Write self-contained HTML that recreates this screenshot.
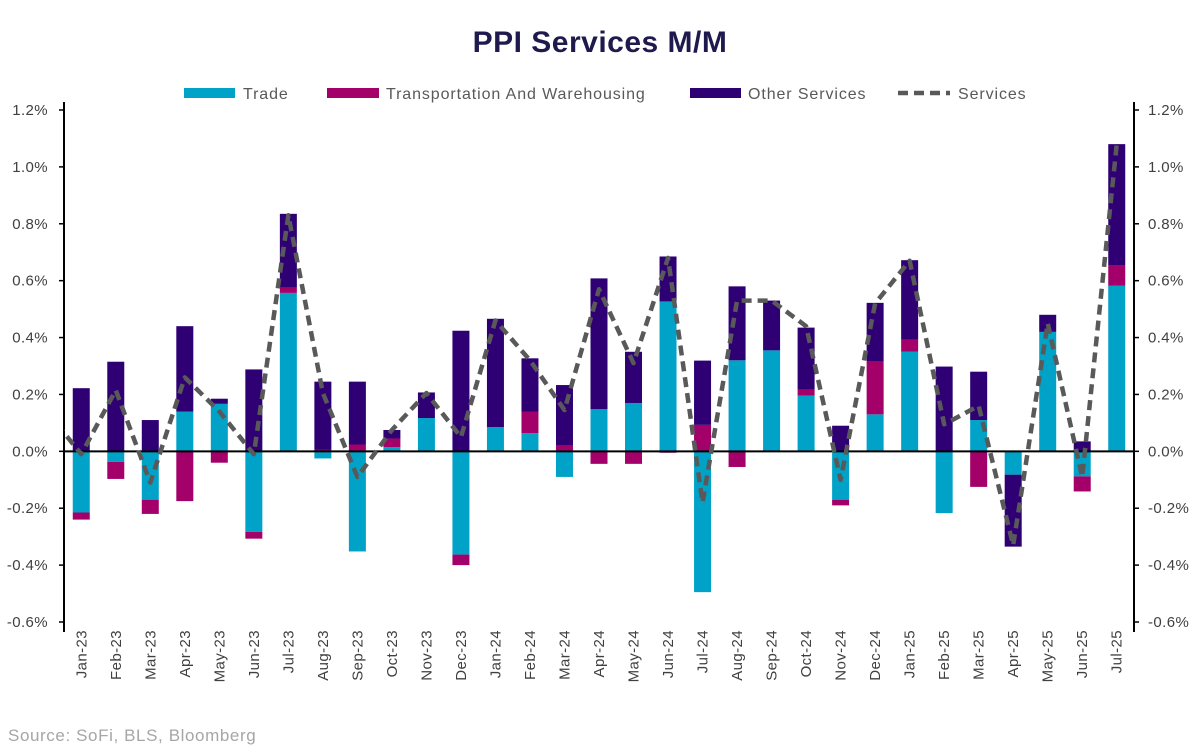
<!DOCTYPE html>
<html><head><meta charset="utf-8"><style>
body{margin:0;background:#fff;}
svg text{font-family:"Liberation Sans",sans-serif;}
</style></head><body>
<svg id="chart" width="1199" height="749" xmlns="http://www.w3.org/2000/svg">
<text x="600" y="52" text-anchor="middle" font-size="30" font-weight="bold" fill="#1f1a4d" letter-spacing="0.5">PPI Services M/M</text>
<g font-size="16" fill="#595959" letter-spacing="0.9">
<g><rect x="184" y="88" width="51" height="10" fill="#00a3c7"/><text x="243" y="99">Trade</text></g>
<g><rect x="327" y="88" width="52" height="10" fill="#a4006a"/><text x="386" y="99">Transportation And Warehousing</text></g>
<g><rect x="690" y="88" width="51" height="10" fill="#2e0073"/><text x="748" y="99">Other Services</text></g>
<g><line x1="898" y1="93" x2="950" y2="93" stroke="#595959" stroke-width="4.5" stroke-dasharray="10,6"/><text x="958" y="99">Services</text></g>
</g>
<g id="plot"></g>
<text x="8" y="741" font-size="17" fill="#a6a6a6" letter-spacing="0.6">Source: SoFi, BLS, Bloomberg</text>
</svg>
<script>
const categories=["Jan-23","Feb-23","Mar-23","Apr-23","May-23","Jun-23","Jul-23","Aug-23","Sep-23","Oct-23","Nov-23","Dec-23","Jan-24","Feb-24","Mar-24","Apr-24","May-24","Jun-24","Jul-24","Aug-24","Sep-24","Oct-24","Nov-24","Dec-24","Jan-25","Feb-25","Mar-25","Apr-25","May-25","Jun-25","Jul-25"];
const trade=[-0.215,-0.037,-0.17,0.14,0.167,-0.283,0.557,-0.025,-0.352,0.015,0.117,-0.363,0.085,0.064,-0.09,0.148,0.17,0.527,-0.495,0.32,0.355,0.196,-0.17,0.13,0.35,-0.217,0.11,-0.082,0.42,-0.088,0.583];
const transport=[-0.025,-0.06,-0.05,-0.175,-0.04,-0.024,0.018,0.005,0.024,0.03,0,-0.037,0,0.076,0.02,-0.044,-0.044,-0.005,0.093,-0.055,0,0.021,-0.02,0.185,0.042,0,-0.125,0,0,-0.053,0.072];
const other=[0.222,0.315,0.11,0.30,0.018,0.288,0.26,0.24,0.221,0.03,0.09,0.424,0.381,0.187,0.213,0.46,0.18,0.158,0.226,0.26,0.175,0.218,0.09,0.207,0.28,0.298,0.17,-0.253,0.06,0.035,0.425];
const services=[-0.01,0.215,-0.11,0.26,0.14,-0.01,0.83,0.205,-0.09,0.075,0.205,0.05,0.46,0.32,0.145,0.57,0.31,0.68,-0.18,0.53,0.53,0.44,-0.1,0.52,0.67,0.095,0.16,-0.33,0.45,-0.09,1.08];
const priorServices=0.14;
const yTicks=[-0.6,-0.4,-0.2,0,0.2,0.4,0.6,0.8,1.0,1.2];
const yTickLabels=["-0.6%","-0.4%","-0.2%","0.0%","0.2%","0.4%","0.6%","0.8%","1.0%","1.2%"];

const NS="http://www.w3.org/2000/svg";
const L=64,R=1134,T=110,B=622,yMin=-0.6,yMax=1.2;
const step=(R-L)/categories.length, bw=17;
const x=i=>L+step*(i+0.5);
const y=v=>B-(v-yMin)/(yMax-yMin)*(B-T);
const plot=document.getElementById('plot');
function mk(tag,attrs,parent){const e=document.createElementNS(NS,tag);for(const k in attrs)e.setAttribute(k,attrs[k]);(parent||plot).appendChild(e);return e;}

yTicks.forEach((t,i)=>{
  const g=mk('g',{});
  
  
  mk('line',{x1:L-5,x2:L,y1:y(t),y2:y(t),stroke:'#000','stroke-width':1.5},g);
  mk('line',{x1:R,x2:R+5,y1:y(t),y2:y(t),stroke:'#000','stroke-width':1.5},g);
  const a=mk('text',{x:L-16,y:y(t)+5,'text-anchor':'end','font-size':15,fill:'#404040','letter-spacing':0.4},g);a.textContent=yTickLabels[i];
  const b=mk('text',{x:R+14,y:y(t)+5,'font-size':15,fill:'#404040','letter-spacing':0.4},g);b.textContent=yTickLabels[i];
});

const stackColors=['#00a3c7','#a4006a','#2e0073'];
const names=['trade','transport','other'];
categories.forEach((c,i)=>{
  let pos=0,neg=0;
  [trade[i],transport[i],other[i]].forEach((v,s)=>{
    if(!v)return;
    let y0,y1;
    if(v>0){y0=pos;y1=pos+v;pos=y1;}else{y0=neg;y1=neg+v;neg=y1;}
    const r=mk('rect',{x:x(i)-bw/2,y:Math.min(y(y0),y(y1)),width:bw,height:Math.abs(y(y1)-y(y0)),fill:stackColors[s]});
    
    
  });
  const t=mk('text',{transform:`translate(${x(i)+5},${B+8}) rotate(-90)`,'text-anchor':'end','font-size':15,fill:'#404040','letter-spacing':0.4});
  
  
  t.textContent=c;
});

const zl=mk('line',{x1:L,x2:R,y1:y(0),y2:y(0),stroke:'#000','stroke-width':2});


const la=mk('line',{x1:L,x2:L,y1:T-8,y2:B+10,stroke:'#000','stroke-width':2});


const ra=mk('line',{x1:R,x2:R,y1:T-8,y2:B+10,stroke:'#000','stroke-width':2});



const clip=mk('clipPath',{id:'clip'});
mk('rect',{x:L,y:0,width:R-L,height:749},clip);
let d=`M${x(-1)},${y(priorServices)}`;
services.forEach((v,i)=>{d+=` L${x(i)},${y(v)}`;});
const line=mk('path',{d:d,fill:'none',stroke:'#595959','stroke-width':4.5,'stroke-dasharray':'10,6','stroke-linejoin':'round','clip-path':'url(#clip)'});


</script>
</body></html>
